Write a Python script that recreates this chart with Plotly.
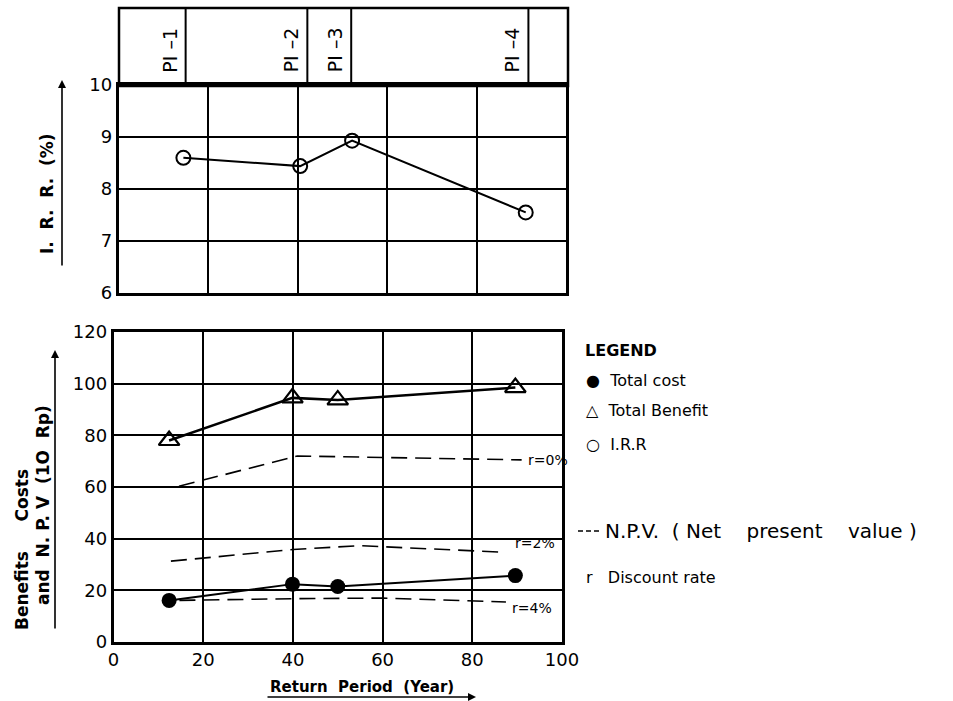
import plotly.graph_objects as go

W, H = 953, 701

# ---------------- data ----------------
irr_period = [14.5, 40.6, 52.2, 91.0]
irr_pct = [8.60, 8.44, 8.93, 7.55]

plan_labels = ["PI –1", "PI –2", "PI –3", "PI –4"]
plan_period = [15.0, 42.2, 52.0, 91.6]

period = [12.4, 39.9, 50.0, 89.6]
total_benefit = [78.0, 94.5, 93.7, 98.5]
total_cost = [16.1, 22.4, 21.5, 25.7]

npv_r0_x = [14.6, 41.0, 91.0]
npv_r0_y = [60.3, 72.0, 70.5]
npv_r2_x = [12.8, 40.0, 55.0, 87.5]
npv_r2_y = [31.3, 35.8, 37.3, 34.7]
npv_r4_x = [14.7, 41.0, 60.0, 87.5]
npv_r4_y = [16.1, 16.8, 17.0, 15.5]
npv_labels = ["r=0%", "r=2%", "r=4%"]
npv_label_pos = [(92.0, 70.5), (89.0, 38.5), (88.5, 13.0)]

x_ticks = [0, 20, 40, 60, 80, 100]
irr_ticks = [6, 7, 8, 9, 10]
cost_ticks = [0, 20, 40, 60, 80, 100, 120]


def px(p):
    return p / W


def py(p):
    return 1 - p / H


FONT = "DejaVu Sans"
BLACK = "black"

fig = go.Figure()

# ---------------- top panel: I.R.R ----------------
fig.add_trace(go.Scatter(
    x=irr_period, y=irr_pct, xaxis="x2", yaxis="y2", mode="lines+markers",
    line=dict(color=BLACK, width=2),
    marker=dict(symbol="circle-open", size=14, color=BLACK, line=dict(width=2)),
    showlegend=False, hoverinfo="skip"))

# ---------------- bottom panel ----------------
fig.add_trace(go.Scatter(
    x=period, y=total_benefit, mode="lines+markers",
    line=dict(color=BLACK, width=2.5),
    marker=dict(symbol="triangle-up-open", size=18, color=BLACK, line=dict(width=2.2)),
    showlegend=False, hoverinfo="skip"))
fig.add_trace(go.Scatter(
    x=period, y=total_cost, mode="lines+markers",
    line=dict(color=BLACK, width=2),
    marker=dict(symbol="circle", size=15, color=BLACK),
    showlegend=False, hoverinfo="skip"))

for xs, ys in [(npv_r0_x, npv_r0_y), (npv_r2_x, npv_r2_y), (npv_r4_x, npv_r4_y)]:
    fig.add_trace(go.Scatter(
        x=xs, y=ys, mode="lines",
        line=dict(color=BLACK, width=1.6, dash="16px,8px"),
        showlegend=False, hoverinfo="skip"))

annotations = []
for lab, (lx, ly) in zip(npv_labels, npv_label_pos):
    annotations.append(dict(x=lx, y=ly, xref="x", yref="y", text=lab, showarrow=False,
                            xanchor="left", yanchor="middle",
                            font=dict(family=FONT, size=14, color=BLACK)))

# ---------------- plan box above top panel ----------------
shapes = [dict(type="rect", xref="paper", yref="paper",
               x0=px(119), x1=px(568), y0=py(86), y1=py(8),
               line=dict(color=BLACK, width=2.5))]
for pp in plan_period:
    shapes.append(dict(type="line", xref="x2", yref="paper", x0=pp, x1=pp,
                       y0=py(86), y1=py(8), line=dict(color=BLACK, width=2)))
for lab, pp in zip(plan_labels, plan_period):
    annotations.append(dict(x=pp, y=py(50), xref="x2", yref="paper", text=lab,
                            textangle=-90, showarrow=False, xanchor="right",
                            yanchor="middle", xshift=-3,
                            font=dict(family=FONT, size=19, color=BLACK)))

# ---------------- axis titles ----------------
title_font = dict(family=FONT, size=17, color=BLACK)
annotations.append(dict(x=px(47), y=py(194), xref="paper", yref="paper",
                        text="<b>I.  R.  R.  (%)</b>", textangle=-90, showarrow=False,
                        xanchor="center", yanchor="middle", font=title_font))
annotations.append(dict(x=px(62), y=py(80), xref="paper", yref="paper", text="",
                        showarrow=True, ax=0, ay=187, arrowhead=2, arrowsize=1,
                        arrowwidth=1.6, arrowcolor=BLACK))

annotations.append(dict(x=px(22), y=py(550), xref="paper", yref="paper",
                        text="<b>Benefits     Costs</b>", textangle=-90, showarrow=False,
                        xanchor="center", yanchor="middle", font=title_font))
annotations.append(dict(x=px(43), y=py(505), xref="paper", yref="paper",
                        text="<b>and  N. P. V  (1O  Rp)</b>", textangle=-90, showarrow=False,
                        xanchor="center", yanchor="middle", font=title_font))
annotations.append(dict(x=px(55), y=py(350), xref="paper", yref="paper", text="",
                        showarrow=True, ax=0, ay=280, arrowhead=2, arrowsize=1,
                        arrowwidth=1.6, arrowcolor=BLACK))

annotations.append(dict(x=px(362), y=py(687), xref="paper", yref="paper",
                        text="<b>Return  Period  (Year)</b>", showarrow=False,
                        xanchor="center", yanchor="middle",
                        font=dict(family=FONT, size=15, color=BLACK)))
annotations.append(dict(x=px(476), y=py(697), xref="paper", yref="paper", text="",
                        showarrow=True, ax=-210, ay=0, arrowhead=2, arrowsize=1,
                        arrowwidth=1.6, arrowcolor=BLACK))

# ---------------- legend (drawn as text) ----------------
leg_font = dict(family=FONT, size=16, color=BLACK)
annotations.append(dict(x=px(583), y=py(350), xref="paper", yref="paper",
                        text="<b>LEGEND</b>", showarrow=False, xanchor="left",
                        yanchor="middle", font=leg_font))
legend_rows = [("●  Total cost", 380), ("△  Total Benefit", 410),
               ("○  I.R.R", 444), ("r   Discount rate", 577)]
for t, yy in legend_rows:
    annotations.append(dict(x=px(584), y=py(yy), xref="paper", yref="paper",
                            text=t, showarrow=False, xanchor="left", yanchor="middle",
                            font=leg_font))
shapes.append(dict(type="line", xref="paper", yref="paper", x0=px(578), x1=px(600),
                   y0=py(531), y1=py(531), line=dict(color=BLACK, width=1.5, dash="5px,3px")))
annotations.append(dict(x=px(603), y=py(531), xref="paper", yref="paper",
                        text="N.P.V.  ( Net    present    value )", showarrow=False,
                        xanchor="left", yanchor="middle",
                        font=dict(family=FONT, size=20, color=BLACK)))

axis_common = dict(showgrid=True, gridcolor=BLACK, gridwidth=1.5,
                   showline=True, linecolor=BLACK, linewidth=2.5, mirror=True,
                   zeroline=False, ticks="", automargin=False,
                   tickfont=dict(family=FONT, size=18, color=BLACK))

fig.update_layout(
    width=W, height=H,
    margin=dict(l=0, r=0, t=0, b=0),
    paper_bgcolor="white", plot_bgcolor="white",
    showlegend=False,
    xaxis=dict(domain=[px(113.5), px(562)], range=[0, 100], tickvals=x_ticks,
               anchor="y", **axis_common),
    yaxis=dict(domain=[py(642), py(332)], range=[0, 120], tickvals=cost_ticks,
               anchor="x", **axis_common),
    xaxis2=dict(domain=[px(118.5), px(566)], range=[0, 100], tickvals=x_ticks,
                showticklabels=False, anchor="y2", **axis_common),
    yaxis2=dict(domain=[py(293), py(85)], range=[6, 10], tickvals=irr_ticks,
                anchor="x2", **axis_common),
    shapes=shapes,
    annotations=annotations,
)

fig.write_html("out.html", config={"displayModeBar": False},
               post_script="document.body.style.margin='0px';document.body.style.overflow='hidden';")
